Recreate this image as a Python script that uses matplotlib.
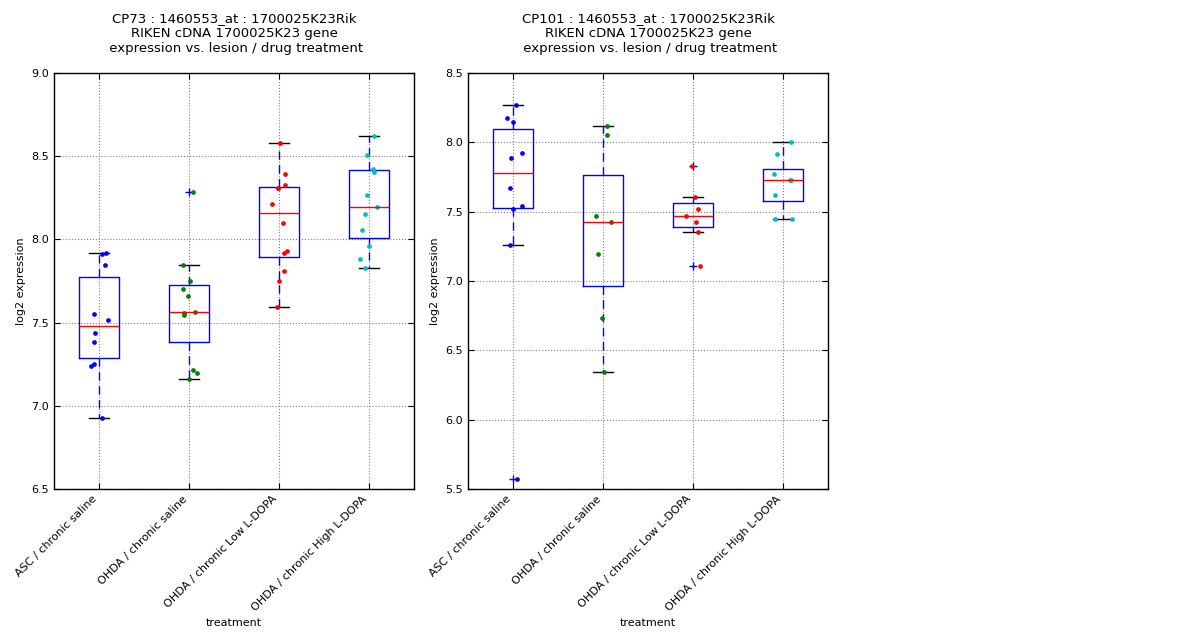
import matplotlib
matplotlib.use('Agg')
import matplotlib.pyplot as plt

groups = ['ASC / chronic saline', 'OHDA / chronic saline',
          'OHDA / chronic Low L-DOPA', 'OHDA / chronic High L-DOPA']
colors = ['b', 'g', 'r', 'c']

# CP73 values
cp73_asc = [7.910, 7.920, 7.848, 7.553, 7.517, 7.439, 7.385, 7.241, 7.253, 6.929]
cp73_ohda = [8.285, 7.848, 7.752, 7.704, 7.662, 7.556, 7.548, 7.566, 7.217, 7.199, 7.161]
cp73_low = [8.581, 8.395, 8.329, 8.307, 8.311, 8.215, 8.100, 7.920, 7.932, 7.812, 7.752, 7.594]
cp73_high = [8.623, 8.509, 8.423, 8.407, 8.267, 8.195, 8.153, 8.058, 7.962, 7.884, 7.830]

# jitter offsets of the dots, as seen in the picture
cp73_jit = [
    [0.03, 0.074, 0.063, -0.059, 0.1, -0.048, -0.059, -0.089, -0.059, 0.03],
    [0.044, -0.067, 0.011, -0.067, -0.014, -0.056, -0.056, 0.063, 0.044, 0.089, 0.0],
    [0.014, 0.063, 0.063, -0.014, -0.008, -0.081, 0.041, 0.052, 0.089, 0.052, 0.0, -0.026],
    [0.052, -0.026, 0.041, 0.052, -0.026, 0.085, -0.048, -0.081, -0.003, -0.103, -0.048],
]

# CP101 values
cp101_asc = [8.271, 8.178, 8.149, 7.889, 7.925, 7.673, 7.543, 7.517, 7.260, 5.572]
cp101_ohda = [8.120, 8.055, 7.471, 7.428, 7.197, 6.735, 6.344]
cp101_low = [7.832, 7.608, 7.521, 7.469, 7.428, 7.356, 7.110]
cp101_high = [8.002, 7.918, 7.774, 7.731, 7.728, 7.623, 7.447, 7.447]

cp101_jit = [
    [0.03, -0.063, 0.0, -0.022, 0.1, -0.037, 0.1, 0.0, -0.037, 0.044],
    [0.044, 0.044, -0.078, 0.089, -0.056, -0.011, 0.011],
    [-0.011, 0.022, 0.056, -0.078, 0.033, 0.056, 0.074],
    [0.092, -0.067, -0.1, 0.081, 0.092, -0.092, -0.089, 0.1],
]


def draw_panel(ax, data, jit, title, ylim, yticks):
    ax.boxplot(data, positions=[1, 2, 3, 4], widths=0.45,
               boxprops=dict(color='b', linewidth=1),
               whiskerprops=dict(color='b', linestyle=(0, (6, 4)), linewidth=1),
               capprops=dict(color='k', linewidth=1),
               medianprops=dict(color='r', linewidth=1),
               flierprops=dict(marker='+', markeredgecolor='b', markersize=6,
                               linestyle='none'))
    for i, (vals, offs) in enumerate(zip(data, jit)):
        xs = [i + 1 + o for o in offs]
        ax.plot(xs, vals, 'o', color=colors[i], markersize=2.8,
                markeredgewidth=0.5, markeredgecolor=colors[i])
    ax.set_xlim(0.5, 4.5)
    ax.set_ylim(*ylim)
    ax.set_yticks(yticks)
    ax.set_yticklabels(['%.1f' % t for t in yticks], fontsize=8)
    ax.set_xticks([1, 2, 3, 4])
    ax.set_xticklabels(groups, rotation=45, ha='right', fontsize=8)
    ax.tick_params(direction='in', top=True, right=True, length=4)
    ax.grid(True, color='gray', linestyle=':', linewidth=0.8)
    ax.set_axisbelow(True)
    ax.set_xlabel('treatment', fontsize=8)
    ax.set_ylabel('log2 expression', fontsize=8)
    ax.set_title(title, fontsize=9.5, pad=15)
    for sp in ax.spines.values():
        sp.set_linewidth(1)


fig = plt.figure(figsize=(12, 6.4), dpi=100)
ax1 = fig.add_axes([0.045, 0.236, 0.30, 0.65])
ax2 = fig.add_axes([0.39, 0.236, 0.30, 0.65])

draw_panel(ax1, [cp73_asc, cp73_ohda, cp73_low, cp73_high], cp73_jit,
           'CP73 : 1460553_at : 1700025K23Rik\nRIKEN cDNA 1700025K23 gene\n'
           ' expression vs. lesion / drug treatment',
           (6.5, 9.0), [6.5, 7.0, 7.5, 8.0, 8.5, 9.0])
draw_panel(ax2, [cp101_asc, cp101_ohda, cp101_low, cp101_high], cp101_jit,
           'CP101 : 1460553_at : 1700025K23Rik\nRIKEN cDNA 1700025K23 gene\n'
           ' expression vs. lesion / drug treatment',
           (5.5, 8.5), [5.5, 6.0, 6.5, 7.0, 7.5, 8.0, 8.5])

fig.savefig('out.png', dpi=100)
